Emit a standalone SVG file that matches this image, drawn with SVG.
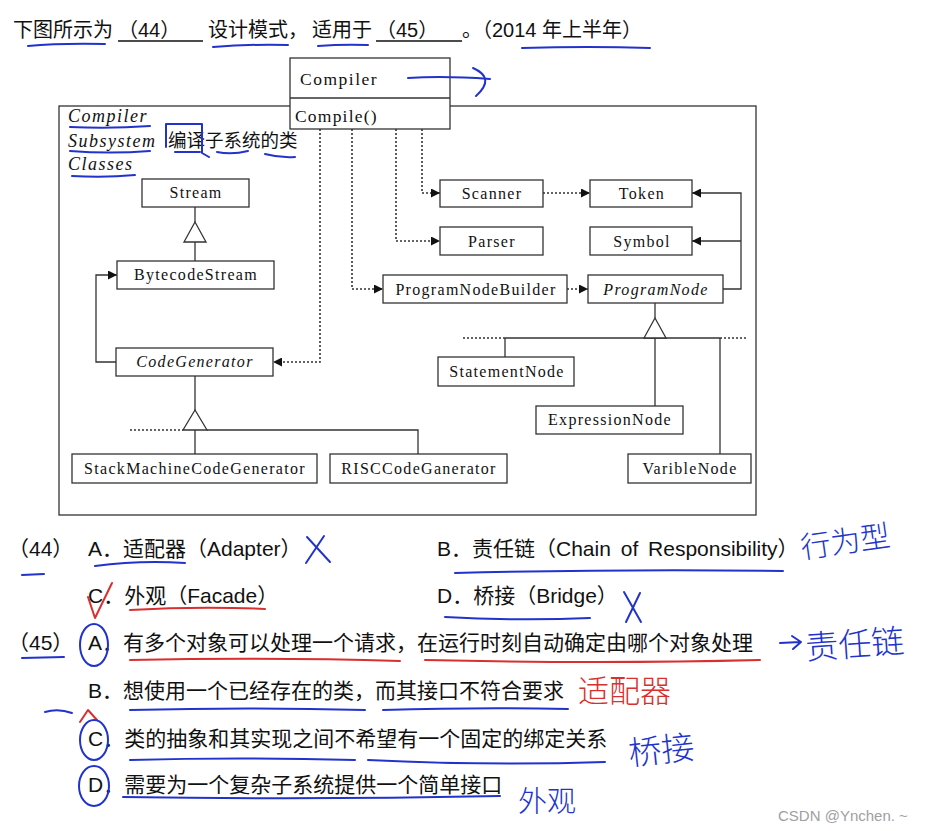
<svg xmlns="http://www.w3.org/2000/svg" width="930" height="831" viewBox="0 0 930 831">
<style>
.box{fill:#fff;stroke:#333;stroke-width:1.3}
.lbl{font-family:"Liberation Serif",serif;font-size:16px;fill:#111;text-anchor:middle;letter-spacing:1.3px}
.it{font-style:italic}
.ln{stroke:#333;stroke-width:1.3;fill:none}
.dot{stroke:#333;stroke-width:1.6;stroke-dasharray:2 2;fill:none}
.tri{fill:#fff;stroke:#333;stroke-width:1.3}
.q{font-family:"Liberation Sans","Noto Sans CJK SC",sans-serif;font-size:21px;fill:#111}
.t{font-family:"Liberation Sans","Noto Sans CJK SC",sans-serif;font-size:20px;fill:#111}
.hb{stroke:#2233cc;stroke-width:2;fill:none;stroke-linecap:round;stroke-linejoin:round}
.hr{stroke:#d8302e;stroke-width:2;fill:none;stroke-linecap:round;stroke-linejoin:round}
.hwb{font-family:"Noto Sans CJK SC",sans-serif;fill:#2233cc;font-weight:300}
.hwr{font-family:"Noto Sans CJK SC",sans-serif;fill:#d8302e;font-weight:300}
.sub{font-family:"Liberation Serif",serif;font-size:18px;font-style:italic;fill:#111;letter-spacing:1.5px}
</style>
<defs>
<marker id="ah" viewBox="0 0 10 10" refX="10" refY="5" markerWidth="10" markerHeight="9" markerUnits="userSpaceOnUse" orient="auto"><path d="M0,0 L10,5 L0,10 z" fill="#111"/></marker>
</defs>
<rect width="930" height="831" fill="#fff"/>

<!-- title -->
<g id="title">
<text class="t" x="13" y="37">下图所示为</text>
<text class="t" x="118" y="37">（44）</text>
<line x1="118" y1="41" x2="203" y2="41" stroke="#111" stroke-width="1.5"/>
<text class="t" x="208" y="37">设计模式，</text>
<text class="t" x="312" y="37">适用于</text>
<text class="t" x="376" y="37">（45）</text>
<line x1="376" y1="41" x2="462" y2="41" stroke="#111" stroke-width="1.5"/>
<text class="t" x="462" y="37">。（2014 年上半年）</text>
</g>

<!-- subsystem frame -->
<g id="subsystem">
<rect x="59" y="106" width="697" height="409" fill="none" stroke="#333" stroke-width="1.3"/>
<text class="sub" x="68" y="122">Compiler</text>
<text class="sub" x="68" y="147">Subsystem</text>
<text class="sub" x="68" y="170">Classes</text>
<text x="168" y="147" font-family="'Noto Sans CJK SC',sans-serif" font-size="18.5" fill="#111">编译子系统的类</text>
</g>

<g id="compiler">
<rect class="box" x="290" y="58" width="160" height="71"/>
<line class="ln" x1="290" y1="98" x2="450" y2="98"/>
<text x="300" y="85" font-family="'Liberation Serif',serif" font-size="17.5" fill="#111" letter-spacing="1.5">Compiler</text>
<text x="295" y="122" font-family="'Liberation Serif',serif" font-size="17.5" fill="#111" letter-spacing="1.2">Compile()</text>
</g>

<!-- connectors -->
<g id="connectors">
<line class="ln" x1="195" y1="207" x2="195" y2="222"/>
<line class="ln" x1="195" y1="242" x2="195" y2="261"/>
<polygon class="tri" points="195,222 184,242 206,242"/>
<path class="ln" d="M116,362 H96 V275 H117" marker-end="url(#ah)"/>
<path class="dot" d="M320,129 V362 H273" marker-end="url(#ah)"/>
<line class="ln" x1="195" y1="376" x2="195" y2="410"/>
<line class="dot" x1="130" y1="430" x2="183" y2="430"/>
<path class="ln" d="M207,430 H418 V454"/>
<line class="ln" x1="195" y1="430" x2="195" y2="454"/>
<polygon class="tri" points="195,410 183,430 207,430"/>
<path class="dot" d="M352,129 V289 H383" marker-end="url(#ah)"/>
<path class="dot" d="M396,129 V241 H440" marker-end="url(#ah)"/>
<path class="dot" d="M422,129 V193 H440" marker-end="url(#ah)"/>
<path class="dot" d="M543,193 H590" marker-end="url(#ah)"/>
<path class="dot" d="M567,289 H588" marker-end="url(#ah)"/>
<path class="ln" d="M723,289 H741 V193 H692" marker-end="url(#ah)"/>
<path class="ln" d="M741,241 H692" marker-end="url(#ah)"/>
<line class="ln" x1="655" y1="303" x2="655" y2="318"/>
<line class="dot" x1="463" y1="338" x2="505" y2="338"/>
<line class="ln" x1="505" y1="338" x2="720" y2="338"/>
<line class="dot" x1="720" y1="338" x2="748" y2="338"/>
<line class="ln" x1="505" y1="338" x2="505" y2="357"/>
<line class="ln" x1="655" y1="338" x2="655" y2="406"/>
<line class="ln" x1="720" y1="338" x2="720" y2="454"/>
<polygon class="tri" points="655,318 644,338 666,338"/>
</g>

<!-- nodes -->
<g id="stream"><rect class="box" x="142" y="179" width="107" height="28"/><text class="lbl" x="196" y="198">Stream</text></g>
<g id="bytecodestream"><rect class="box" x="117" y="261" width="157" height="28"/><text class="lbl" x="196" y="280">BytecodeStream</text></g>
<g id="codegenerator"><rect class="box" x="116" y="348" width="157" height="28"/><text class="lbl it" x="195" y="367">CodeGenerator</text></g>
<g id="stackmachine"><rect class="box" x="72" y="454" width="245" height="29"/><text class="lbl" x="195" y="474">StackMachineCodeGenerator</text></g>
<g id="risc"><rect class="box" x="330" y="454" width="177" height="29"/><text class="lbl" x="419" y="474">RISCCodeGanerator</text></g>
<g id="scanner"><rect class="box" x="440" y="180" width="103" height="27"/><text class="lbl" x="492" y="199">Scanner</text></g>
<g id="token"><rect class="box" x="590" y="180" width="102" height="27"/><text class="lbl" x="642" y="199">Token</text></g>
<g id="parser"><rect class="box" x="440" y="227" width="103" height="28"/><text class="lbl" x="492" y="247">Parser</text></g>
<g id="symbol"><rect class="box" x="590" y="227" width="102" height="28"/><text class="lbl" x="642" y="247">Symbol</text></g>
<g id="programnodebuilder"><rect class="box" x="383" y="275" width="184" height="28"/><text class="lbl" x="476" y="295">ProgramNodeBuilder</text></g>
<g id="programnode"><rect class="box" x="588" y="275" width="135" height="28"/><text class="lbl it" x="656" y="295">ProgramNode</text></g>
<g id="statementnode"><rect class="box" x="438" y="357" width="136" height="29"/><text class="lbl" x="507" y="377">StatementNode</text></g>
<g id="expressionnode"><rect class="box" x="536" y="406" width="147" height="28"/><text class="lbl" x="610" y="425">ExpressionNode</text></g>
<g id="variblenode"><rect class="box" x="628" y="454" width="123" height="29"/><text class="lbl" x="690" y="474">VaribleNode</text></g>

<!-- questions -->
<g id="questions">
<text class="q" x="8" y="556">（44）</text>
<text class="q" x="88" y="556">A．适配器（Adapter）</text>
<text class="q" x="437" y="556" word-spacing="4">B．责任链（Chain of Responsibility）</text>
<text class="q" x="88" y="603">C．外观（Facade）</text>
<text class="q" x="437" y="603">D．桥接（Bridge）</text>
<text class="q" x="8" y="650">（45）</text>
<text class="q" x="88" y="650">A．有多个对象可以处理一个请求，在运行时刻自动确定由哪个对象处理</text>
<text class="q" x="88" y="698">B．想使用一个已经存在的类，而其接口不符合要求</text>
<text class="q" x="88" y="746">C．类的抽象和其实现之间不希望有一个固定的绑定关系</text>
<text class="q" x="88" y="792">D．需要为一个复杂子系统提供一个简单接口</text>
</g>

<!-- handwritten annotations -->
<g id="annotations">
<path class="hb" d="M28,46 Q60,43 105,44"/>
<path class="hb" d="M213,47 Q250,44 288,45"/>
<path class="hb" d="M318,46 Q343,44 368,45"/>
<path class="hb" d="M522,48 Q590,46 650,48"/>
<path class="hb" d="M408,78 C440,76 462,77 490,79"/>
<path class="hb" d="M473,68 Q496,78 476,96"/>
<path class="hb" d="M70,127 Q110,129 150,126"/>
<path class="hb" d="M70,151 Q110,154 150,151"/>
<path class="hb" d="M72,176 Q105,178 135,175"/>
<path class="hb" d="M166,147 V124 H202 V153 L209,157"/>
<path class="hb" d="M175,152 L200,152"/>
<path class="hb" d="M217,152 Q232,155 248,151"/>
<path class="hb" d="M265,154 Q280,158 295,157"/>
<path class="hb" d="M95,566 Q140,560 185,563"/>
<path class="hb" d="M307,537 L330,562 M324,536 L306,563"/>
<path class="hb" d="M22,575 L44,574"/>
<path class="hb" d="M455,573 Q620,569 783,571"/>
<text class="hwb" x="800" y="553" font-size="30" transform="rotate(-8 840 540)">行为型</text>
<path class="hr" d="M88,597 L95,618 L112,583"/>
<path class="hr" d="M130,610 Q200,606 265,609"/>
<path class="hb" d="M445,617 Q520,621 590,618"/>
<path class="hb" d="M624,592 L641,622 M640,593 L626,622"/>
<ellipse class="hb" cx="94" cy="645" rx="14" ry="21"/>
<path class="hb" d="M22,658 L64,657"/>
<path class="hr" d="M130,660 Q270,657 400,661"/>
<path class="hr" d="M425,660 Q600,664 760,660"/>
<path class="hb" d="M780,643 L800,642 M792,636 L801,642 L793,649"/>
<text class="hwb" x="805" y="656" font-size="33" transform="rotate(-4 855 640)">责任链</text>
<path class="hb" d="M130,710 Q250,707 365,710"/>
<path class="hb" d="M383,710 Q480,707 568,709"/>
<text class="hwr" x="578" y="702" font-size="31">适配器</text>
<path class="hr" d="M80,722 L88,710 L97,720"/>
<path class="hb" d="M45,712 Q58,708 72,713"/>
<ellipse class="hb" cx="94" cy="740" rx="14" ry="20"/>
<path class="hb" d="M130,760 Q240,757 355,760"/>
<path class="hb" d="M368,760 Q490,766 605,762"/>
<text class="hwb" x="628" y="762" font-size="33" transform="rotate(-6 660 748)">桥接</text>
<ellipse class="hb" cx="94" cy="786" rx="15" ry="20"/>
<path class="hb" d="M123,797 Q310,800 500,796"/>
<text class="hwb" x="518" y="812" font-size="29">外观</text>
</g>

<text x="778" y="821" font-family="'Liberation Sans',sans-serif" font-size="15" fill="#a0a0a0">CSDN @Ynchen. ~</text>
</svg>
